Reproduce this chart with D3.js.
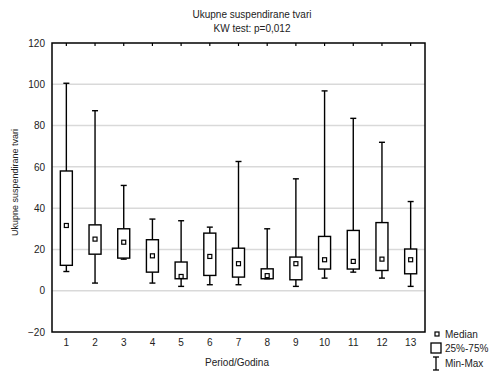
<!DOCTYPE html>
<html><head><meta charset="utf-8">
<script src="https://cdn.jsdelivr.net/npm/d3@7"></script>
<style>body{margin:0;background:#fff}text{font-family:"Liberation Sans",Arial,sans-serif;fill:#222}</style>
</head><body><svg id="c" width="495" height="372"></svg>
<script>
const categories = ["1","2","3","4","5","6","7","8","9","10","11","12","13"];
const maxV    = [100.5, 87.2, 51.0, 34.7, 33.9, 30.8, 62.6, 30.0, 54.2, 96.8, 83.5, 71.9, 43.2];
const q3V     = [58.0, 31.9, 30.0, 24.7, 13.9, 27.9, 20.6, 10.6, 16.3, 26.3, 29.2, 33.0, 20.2];
const medianV = [31.6, 25.0, 23.5, 16.9, 6.9, 16.6, 13.1, 7.3, 13.1, 15.0, 14.2, 15.3, 15.0];
const q1V     = [12.3, 17.7, 15.8, 9.0, 5.8, 7.4, 6.6, 5.8, 5.3, 10.5, 10.5, 9.8, 8.2];
const minV    = [9.3, 3.7, 15.3, 3.7, 2.1, 2.9, 2.9, 5.8, 2.1, 6.1, 9.0, 6.1, 2.1];
const yTicks  = [-20, 0, 20, 40, 60, 80, 100, 120];
const gridTicks = [0, 20, 40, 60, 80, 100];
const title1 = "Ukupne suspendirane tvari";
const title2 = "KW test: p=0,012";
const yTitle = "Ukupne suspendirane tvari";
const xTitle = "Period/Godina";
const legendLabels = ["Median", "25%-75%", "Min-Max"];

const svg = d3.select("#c");
const L = 52, R = 425, T = 43, B = 332;
const x = d3.scaleBand().domain(categories).range([L, R]).padding(0);
const y = d3.scaleLinear().domain([-20, 120]).range([B, T]);

svg.append("text").attr("x", 252).attr("y", 18).attr("text-anchor", "middle").attr("font-size", 10).text(title1);
svg.append("text").attr("x", 252).attr("y", 32).attr("text-anchor", "middle").attr("font-size", 10).text(title2);

// grid
svg.append("g").selectAll("line").data(gridTicks).join("line")
  .attr("x1", L).attr("x2", R).attr("y1", d => y(d)).attr("y2", d => y(d))
  .attr("stroke", "#d9d9d9").attr("stroke-width", 1.5);

// y axis labels
const ya = svg.append("g").attr("transform", `translate(${L},0)`)
  .call(d3.axisLeft(y).tickValues(yTicks).tickSize(0).tickPadding(7).tickFormat(d3.format("d")));
ya.select(".domain").remove();
ya.selectAll("text").attr("font-size", 10).style("font-family", '"Liberation Sans",Arial,sans-serif').attr("fill", "#333");

// x axis labels
const xa = svg.append("g").attr("transform", `translate(0,${B})`)
  .call(d3.axisBottom(x).tickSize(0).tickPadding(7));
xa.select(".domain").remove();
xa.selectAll("text").attr("font-size", 10).style("font-family", '"Liberation Sans",Arial,sans-serif').attr("fill", "#333");

// top inward ticks
const xt = svg.append("g").attr("transform", `translate(0,${T})`)
  .call(d3.axisTop(x).tickSize(-3).tickFormat(""));
xt.select(".domain").remove();
xt.selectAll("line").attr("stroke", "#000").attr("stroke-width", 1.2);

// boxes
const bw = 12, cw = 6;
const g = svg.append("g").attr("stroke", "#000").attr("stroke-width", 1.4).attr("fill", "none");
categories.forEach((c, i) => {
  const cx = x(c) + x.bandwidth() / 2;
  g.append("line").attr("x1", cx).attr("x2", cx).attr("y1", y(maxV[i])).attr("y2", y(q3V[i]));
  g.append("line").attr("x1", cx).attr("x2", cx).attr("y1", y(q1V[i])).attr("y2", y(minV[i]));
  g.append("line").attr("x1", cx - cw/2).attr("x2", cx + cw/2).attr("y1", y(maxV[i])).attr("y2", y(maxV[i]));
  g.append("line").attr("x1", cx - cw/2).attr("x2", cx + cw/2).attr("y1", y(minV[i])).attr("y2", y(minV[i]));
  g.append("rect").attr("x", cx - bw/2).attr("y", y(q3V[i])).attr("width", bw).attr("height", y(q1V[i]) - y(q3V[i])).attr("fill", "#fff");
  g.append("rect").attr("x", cx - 2).attr("y", y(medianV[i]) - 2).attr("width", 4).attr("height", 4).attr("stroke-width", 1.2);
});

// frame
svg.append("rect").attr("x", L).attr("y", T).attr("width", R - L).attr("height", B - T)
  .attr("fill", "none").attr("stroke", "#000").attr("stroke-width", 1.5);

// axis titles
svg.append("text").attr("transform", `translate(18,${(T+B)/2 - 5}) rotate(-90)`).attr("text-anchor", "middle").attr("font-size", 9).text(yTitle);
svg.append("text").attr("x", 237).attr("y", 366).attr("text-anchor", "middle").attr("font-size", 10).text(xTitle);

// legend
const lg = svg.append("g").attr("stroke", "#000").attr("fill", "none");
lg.append("rect").attr("x", 435).attr("y", 332).attr("width", 4).attr("height", 4).attr("stroke-width", 1.2);
lg.append("rect").attr("x", 431).attr("y", 343).attr("width", 10).attr("height", 10).attr("stroke-width", 1.3);
lg.append("line").attr("x1", 436).attr("x2", 436).attr("y1", 357).attr("y2", 370).attr("stroke-width", 1.3);
lg.append("line").attr("x1", 433).attr("x2", 439).attr("y1", 357).attr("y2", 357).attr("stroke-width", 1.3);
lg.append("line").attr("x1", 433).attr("x2", 439).attr("y1", 370).attr("y2", 370).attr("stroke-width", 1.3);
const ly = [338, 352, 367];
svg.append("g").selectAll("text").data(legendLabels).join("text")
  .attr("x", 445).attr("y", (d, i) => ly[i]).attr("font-size", 10).text(d => d);
</script></body></html>
